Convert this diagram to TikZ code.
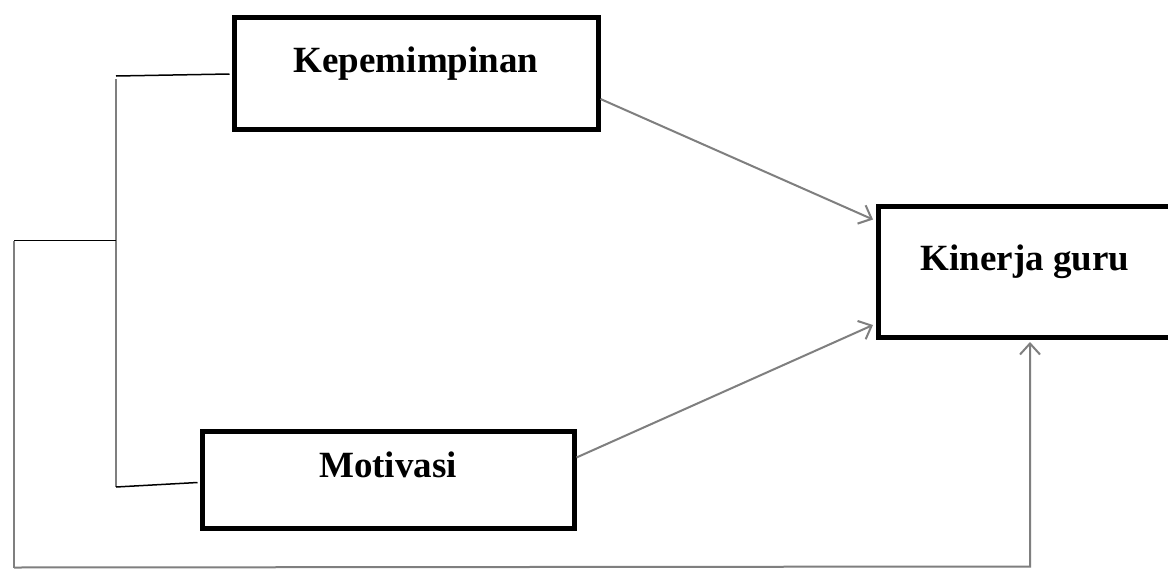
\documentclass[tikz,border=0pt]{standalone}
\usepackage{fontspec}
\setmainfont{Liberation Serif}
\usetikzlibrary{arrows.meta,calc}
\definecolor{linegray}{HTML}{7F7F7F}
\begin{document}
\begin{tikzpicture}[x=1pt,y=-1pt,
  box/.style={draw=black,line width=5pt,rectangle,inner sep=0pt},
  lbl/.style={font=\fontsize{37}{40}\selectfont\bfseries,anchor=base,inner sep=0pt},
  blk/.style={draw=black,line width=1.5pt},
  gry/.style={draw=linegray,line width=1.6pt},
  arr/.style={draw=linegray,line width=2pt,-{Straight Barb[length=11pt,width=20pt,line width=2pt]}}]
\clip (0,0) rectangle (1168,568);
\fill[white] (0,0) rectangle (1168,568);
% boxes
\node[box,minimum width=363.5pt,minimum height=112pt] (kep) at (416.25,73) {};
\node[box,minimum width=297pt,minimum height=131pt] (kin) at (1026.5,271.5) {};
\node[box,minimum width=371.5pt,minimum height=97pt] (mot) at (388.25,479.5) {};
% labels
\node[lbl] (kept) at (416,72) {Kepemimpinan};
\node[lbl] (kint) at (1025,270.5) {Kinerja guru};
\node[lbl] (mott) at (388,477.5) {Motivasi};
% bracket coordinates
\coordinate (tl) at (116,76);
\coordinate (bl) at (116,487);
\coordinate (mid) at (116,240.5);
\coordinate (far) at (14,240.5);
\coordinate (fb) at (14,567.5);
\coordinate (br) at (1030,566.5);
% bracket
\draw[blk] ($(kep.west)+(-2.5,1)$) -- (tl);
\draw[gry] ($(tl)+(0,3)$) -- (bl);
\draw[blk] (bl) -- ($(mot.west)+(-2.5,3)$);
\draw[blk] (mid) -- (far);
\draw[gry] (far) -- (fb);
% bottom feedback
\draw[arr] (fb) -- (br) -- ($(br |- kin.south)+(0,2.5)$);
% arrows
\draw[arr] ($(kep.east)+(0,26)$) -- ($(kin.west)+(-2.5,-52)$);
\draw[arr] ($(mot.east)+(0,-22)$) -- ($(kin.west)+(-2.5,53.5)$);
\end{tikzpicture}
\end{document}
